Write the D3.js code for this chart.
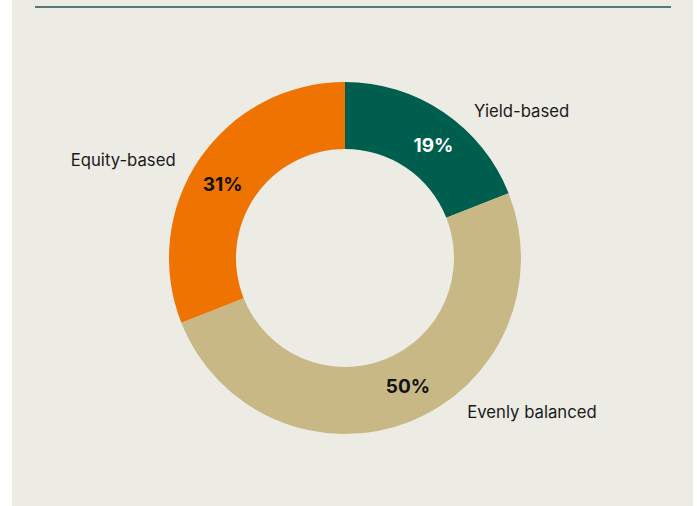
<!DOCTYPE html>
<html>
<head>
<meta charset="utf-8">
<script src="https://cdn.jsdelivr.net/npm/d3@7"></script>
<style>
  body { margin: 0; background: #fff; }
</style>
</head>
<body>
<div id="chart"></div>
<script>
'use strict';

// chart values
const categories = ["Yield-based", "Evenly balanced", "Equity-based"];
const shares = [19, 50, 31];
const pctLabels = ["19%", "50%", "31%"];

const colors = ["#005e4e", "#c8b886", "#ef7300"];
const pctColors = ["#ffffff", "#111111", "#111111"];
// small angular nudges (degrees) so labels sit where the original had them
const nameShift = [7, -17, -4];
const pctShift = [4, -4.5, -3];

function createDonut(width, height) {
    let svg = d3.select("#chart").append("svg")
        .attr("width", width)
        .attr("height", height);

    svg.append("rect")
        .attr("x", 12).attr("y", 0)
        .attr("width", 681).attr("height", height)
        .attr("fill", "#ecebe4");

    svg.append("line")
        .attr("x1", 35).attr("x2", 671)
        .attr("y1", 7).attr("y2", 7)
        .attr("stroke", "#4f7b73")
        .attr("stroke-width", 2);

    let cx = 345, cy = 258,
        outerRadius = 176,
        innerRadius = 109;

    let data = categories.map((c, i) => ({ name: c, value: shares[i], pct: pctLabels[i], i: i }));

    let pie = d3.pie()
        .sort(null)
        .value(d => d.value);

    let arc = d3.arc()
        .outerRadius(outerRadius)
        .innerRadius(innerRadius);

    let g = svg.append("g")
        .attr("transform", "translate(" + cx + "," + cy + ")");

    let arcs = pie(data);

    g.selectAll("path")
        .data(arcs)
        .enter().append("path")
        .attr("fill", d => colors[d.data.i])
        .attr("d", arc);

    const rad = Math.PI / 180;
    function polar(d, r, shift) {
        let a = (d.startAngle + d.endAngle) / 2 + shift * rad;
        return [r * Math.sin(a), -r * Math.cos(a)];
    }

    g.selectAll("text.pct")
        .data(arcs)
        .enter().append("text")
        .attr("class", "pct")
        .attr("transform", d => "translate(" + polar(d, 143, pctShift[d.data.i]) + ")")
        .attr("text-anchor", "middle")
        .attr("dy", "0.36em")
        .attr("font-family", "Inter, sans-serif")
        .attr("font-weight", 700)
        .attr("font-size", 19)
        .attr("fill", d => pctColors[d.data.i])
        .text(d => d.data.pct);

    g.selectAll("text.name")
        .data(arcs)
        .enter().append("text")
        .attr("class", "name")
        .attr("transform", d => "translate(" + polar(d, 196, nameShift[d.data.i]) + ")")
        .attr("text-anchor", d => {
            let a = (d.startAngle + d.endAngle) / 2;
            return a > Math.PI ? "end" : "start";
        })
        .attr("dy", "0.38em")
        .attr("font-family", "Inter, sans-serif")
        .attr("font-size", 16.7)
        .attr("fill", "#1a1a1a")
        .text(d => d.data.name);

    return svg.node();
}

createDonut(697, 506);
</script>
</body>
</html>
